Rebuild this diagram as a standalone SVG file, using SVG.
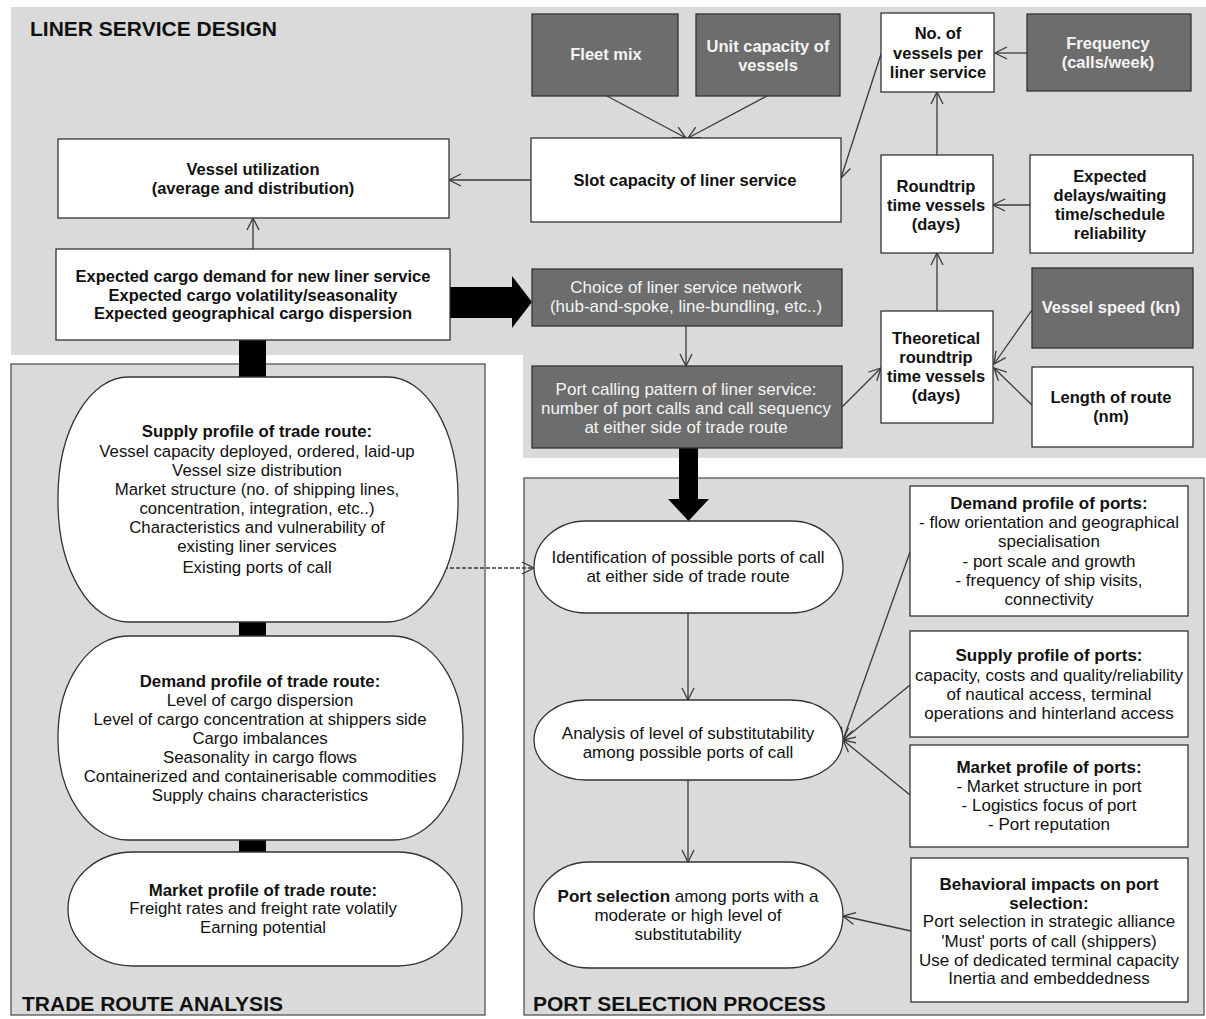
<svg xmlns="http://www.w3.org/2000/svg" width="1206" height="1019" viewBox="0 0 1206 1019">
<defs>
<style>
text{font-family:"Liberation Sans",Arial,sans-serif;fill:#111;text-anchor:middle}
.t{font-size:16.5px;font-weight:bold}
.c{font-size:16.5px;font-weight:bold}
.w{fill:#f4f4f4}
.cr{font-size:17px;fill:#f4f4f4}
.l{font-size:16.8px}
.p{font-size:17px}
.b{font-weight:bold}
.title{font-size:21px;font-weight:bold;text-anchor:start}
.box{fill:#fff;stroke:#333;stroke-width:1.3}
.dk{fill:#6d6d6d;stroke:#333;stroke-width:1.3}
.reg{fill:#dadada;stroke:#555;stroke-width:1.3}
.ln{stroke:#3a3a3a;stroke-width:1.3;fill:none;marker-end:url(#ah)}
.thick{fill:#000}
</style>
<marker id="ah" viewBox="0 0 14 14" refX="13" refY="7" markerWidth="14" markerHeight="14" orient="auto" markerUnits="userSpaceOnUse">
<path d="M1,1 L13,7 L1,13" fill="none" stroke="#3a3a3a" stroke-width="1.3"/>
</marker>
</defs>
<rect width="1206" height="1019" fill="#fff"/>
<g id="regions">
<polygon points="11,7 1206,7 1206,458 523,458 523,355 11,355" fill="#dadada"/>
<rect class="reg" x="11" y="364" width="474" height="651"/>
<rect class="reg" x="524" y="478" width="680" height="537"/>
<text class="title" x="30" y="36">LINER SERVICE DESIGN</text>
<text class="title" x="22" y="1011">TRADE ROUTE ANALYSIS</text>
<text class="title" x="533" y="1011">PORT SELECTION PROCESS</text>
</g>
<g id="connectors">
<polygon class="thick" points="450,287 512,287 512,276 532,302 512,328 512,318 450,318"/>
<polygon class="thick" points="679,448 698,448 698,499 709,499 688.5,521 668,499 679,499"/>
<rect class="thick" x="239" y="340" width="27" height="37"/>
<rect class="thick" x="239" y="621" width="27" height="16"/>
<rect class="thick" x="239" y="839" width="27" height="13"/>
<line class="ln" x1="607" y1="96" x2="686" y2="138"/>
<line class="ln" x1="767" y1="96" x2="688" y2="138"/>
<line class="ln" x1="531" y1="180" x2="449" y2="180"/>
<line class="ln" x1="253" y1="249" x2="253" y2="218"/>
<line class="ln" x1="881" y1="54" x2="841" y2="178"/>
<line class="ln" x1="1027" y1="53" x2="995" y2="53"/>
<line class="ln" x1="937" y1="155" x2="937" y2="92"/>
<line class="ln" x1="1030" y1="205" x2="993" y2="205"/>
<line class="ln" x1="937" y1="311" x2="937" y2="253"/>
<line class="ln" x1="1032" y1="310" x2="994" y2="364"/>
<line class="ln" x1="1032" y1="405" x2="994" y2="368"/>
<line class="ln" x1="842" y1="407" x2="881" y2="368"/>
<line class="ln" x1="686" y1="326" x2="686" y2="366"/>
<line class="ln" x1="342" y1="568" x2="534" y2="568" stroke-dasharray="4 2" stroke-width="1"/>
<line class="ln" x1="688" y1="613" x2="688" y2="700"/>
<line class="ln" x1="688" y1="780" x2="688" y2="862"/>
<line class="ln" x1="910" y1="552" x2="843" y2="740"/>
<line class="ln" x1="910" y1="685" x2="843" y2="740"/>
<line class="ln" x1="910" y1="795" x2="843" y2="740"/>
<line class="ln" x1="911" y1="931" x2="843" y2="916"/>
</g>
<g id="fleet-mix">
<rect class="dk" x="532" y="14" width="146" height="82"/>
<text class="c w" x="606" y="60">Fleet mix</text>
</g>
<g id="unit-capacity">
<rect class="dk" x="696" y="14" width="144" height="82"/>
<text class="c w" x="768" y="52">Unit capacity of</text>
<text class="c w" x="768" y="71">vessels</text>
</g>
<g id="no-vessels">
<rect class="box" x="881" y="13" width="113" height="79"/>
<text class="c" x="938" y="39">No. of</text>
<text class="c" x="938" y="59">vessels per</text>
<text class="c" x="938" y="78">liner service</text>
</g>
<g id="frequency">
<rect class="dk" x="1027" y="14" width="164" height="77"/>
<text class="c w" x="1108" y="49">Frequency</text>
<text class="c w" x="1108" y="68">(calls/week)</text>
</g>
<g id="slot-capacity">
<rect class="box" x="531" y="138" width="310" height="84"/>
<text class="c" x="685" y="186">Slot capacity of liner service</text>
</g>
<g id="vessel-utilization">
<rect class="box" x="58" y="139" width="391" height="79"/>
<text class="t" x="253" y="175">Vessel utilization</text>
<text class="t" x="253" y="194">(average and distribution)</text>
</g>
<g id="expected-cargo">
<rect class="box" x="56" y="249" width="394" height="91"/>
<text class="t" x="253" y="282">Expected cargo demand for new liner service</text>
<text class="t" x="253" y="301">Expected cargo volatility/seasonality</text>
<text class="t" x="253" y="319">Expected geographical cargo dispersion</text>
</g>
<g id="roundtrip">
<rect class="box" x="881" y="155" width="112" height="98"/>
<text class="c" x="936" y="192">Roundtrip</text>
<text class="c" x="936" y="211">time vessels</text>
<text class="c" x="936" y="230">(days)</text>
</g>
<g id="expected-delays">
<rect class="box" x="1030" y="155" width="163" height="98"/>
<text class="c" x="1110" y="182">Expected</text>
<text class="c" x="1110" y="201">delays/waiting</text>
<text class="c" x="1110" y="220">time/schedule</text>
<text class="c" x="1110" y="239">reliability</text>
</g>
<g id="choice-network">
<rect class="dk" x="532" y="269" width="310" height="57"/>
<text class="cr" x="686" y="293">Choice of liner service network</text>
<text class="cr" x="686" y="312">(hub-and-spoke, line-bundling, etc..)</text>
</g>
<g id="port-calling">
<rect class="dk" x="532" y="366" width="310" height="82"/>
<text class="cr" x="686" y="395">Port calling pattern of liner service:</text>
<text class="cr" x="686" y="414">number of port calls and call sequency</text>
<text class="cr" x="686" y="433">at either side of trade route</text>
</g>
<g id="theoretical">
<rect class="box" x="881" y="311" width="112" height="112"/>
<text class="c" x="936" y="344">Theoretical</text>
<text class="c" x="936" y="363">roundtrip</text>
<text class="c" x="936" y="382">time vessels</text>
<text class="c" x="936" y="401">(days)</text>
</g>
<g id="vessel-speed">
<rect class="dk" x="1032" y="268" width="161" height="80"/>
<text class="c w" x="1111" y="313">Vessel speed (kn)</text>
</g>
<g id="length-route">
<rect class="box" x="1032" y="367" width="161" height="80"/>
<text class="c" x="1111" y="403">Length of route</text>
<text class="c" x="1111" y="422">(nm)</text>
</g>
<g id="supply-trade">
<rect class="box" x="58" y="377" width="400" height="245" rx="70" ry="120"/>
<text class="l b" x="257" y="437">Supply profile of trade route:</text>
<text class="l" x="257" y="457">Vessel capacity deployed, ordered, laid-up</text>
<text class="l" x="257" y="476">Vessel size distribution</text>
<text class="l" x="257" y="495">Market structure (no. of shipping lines,</text>
<text class="l" x="257" y="514">concentration, integration, etc..)</text>
<text class="l" x="257" y="533">Characteristics and vulnerability of</text>
<text class="l" x="257" y="552">existing liner services</text>
<text class="l" x="257" y="573">Existing ports of call</text>
</g>
<g id="demand-trade">
<rect class="box" x="58" y="636" width="405" height="204" rx="70" ry="100"/>
<text class="l b" x="260" y="687">Demand profile of trade route:</text>
<text class="l" x="260" y="706">Level of cargo dispersion</text>
<text class="l" x="260" y="725">Level of cargo concentration at shippers side</text>
<text class="l" x="260" y="744">Cargo imbalances</text>
<text class="l" x="260" y="763">Seasonality in cargo flows</text>
<text class="l" x="260" y="782">Containerized and containerisable commodities</text>
<text class="l" x="260" y="801">Supply chains characteristics</text>
</g>
<g id="market-trade">
<rect class="box" x="68" y="852" width="394" height="114" rx="65" ry="57"/>
<text class="l b" x="263" y="896">Market profile of trade route:</text>
<text class="l" x="263" y="914">Freight rates and freight rate volatily</text>
<text class="l" x="263" y="933">Earning potential</text>
</g>
<g id="identification">
<rect class="box" x="534" y="521" width="309" height="92" rx="52" ry="46"/>
<text class="p" x="688" y="563">Identification of possible ports of call</text>
<text class="p" x="688" y="582">at either side of trade route</text>
</g>
<g id="analysis">
<rect class="box" x="534" y="700" width="309" height="80" rx="52" ry="40"/>
<text class="p" x="688" y="739">Analysis of level of substitutability</text>
<text class="p" x="688" y="758">among possible ports of call</text>
</g>
<g id="port-selection">
<rect class="box" x="534" y="862" width="309" height="106" rx="55" ry="53"/>
<text class="p" x="688" y="902"><tspan class="b">Port selection</tspan> among ports with a</text>
<text class="p" x="688" y="921">moderate or high level of</text>
<text class="p" x="688" y="940">substitutability</text>
</g>
<g id="demand-ports">
<rect class="box" x="910" y="486" width="278" height="130"/>
<text class="p b" x="1049" y="509">Demand profile of ports:</text>
<text class="p" x="1049" y="528">- flow orientation and geographical</text>
<text class="p" x="1049" y="547">specialisation</text>
<text class="p" x="1049" y="567">- port scale and growth</text>
<text class="p" x="1049" y="586">- frequency of ship visits,</text>
<text class="p" x="1049" y="605">connectivity</text>
</g>
<g id="supply-ports">
<rect class="box" x="910" y="631" width="278" height="106"/>
<text class="p b" x="1049" y="661">Supply profile of ports:</text>
<text class="p" x="1049" y="681">capacity, costs and quality/reliability</text>
<text class="p" x="1049" y="700">of nautical access, terminal</text>
<text class="p" x="1049" y="719">operations and hinterland access</text>
</g>
<g id="market-ports">
<rect class="box" x="910" y="745" width="278" height="102"/>
<text class="p b" x="1049" y="773">Market profile of ports:</text>
<text class="p" x="1049" y="792">- Market structure in port</text>
<text class="p" x="1049" y="811">- Logistics focus of port</text>
<text class="p" x="1049" y="830">- Port reputation</text>
</g>
<g id="behavioral">
<rect class="box" x="911" y="858" width="277" height="144"/>
<text class="p b" x="1049" y="890">Behavioral impacts on port</text>
<text class="p b" x="1049" y="909">selection:</text>
<text class="p" x="1049" y="927">Port selection in strategic alliance</text>
<text class="p" x="1049" y="947">'Must' ports of call (shippers)</text>
<text class="p" x="1049" y="966">Use of dedicated terminal capacity</text>
<text class="p" x="1049" y="984">Inertia and embeddedness</text>
</g>
</svg>
